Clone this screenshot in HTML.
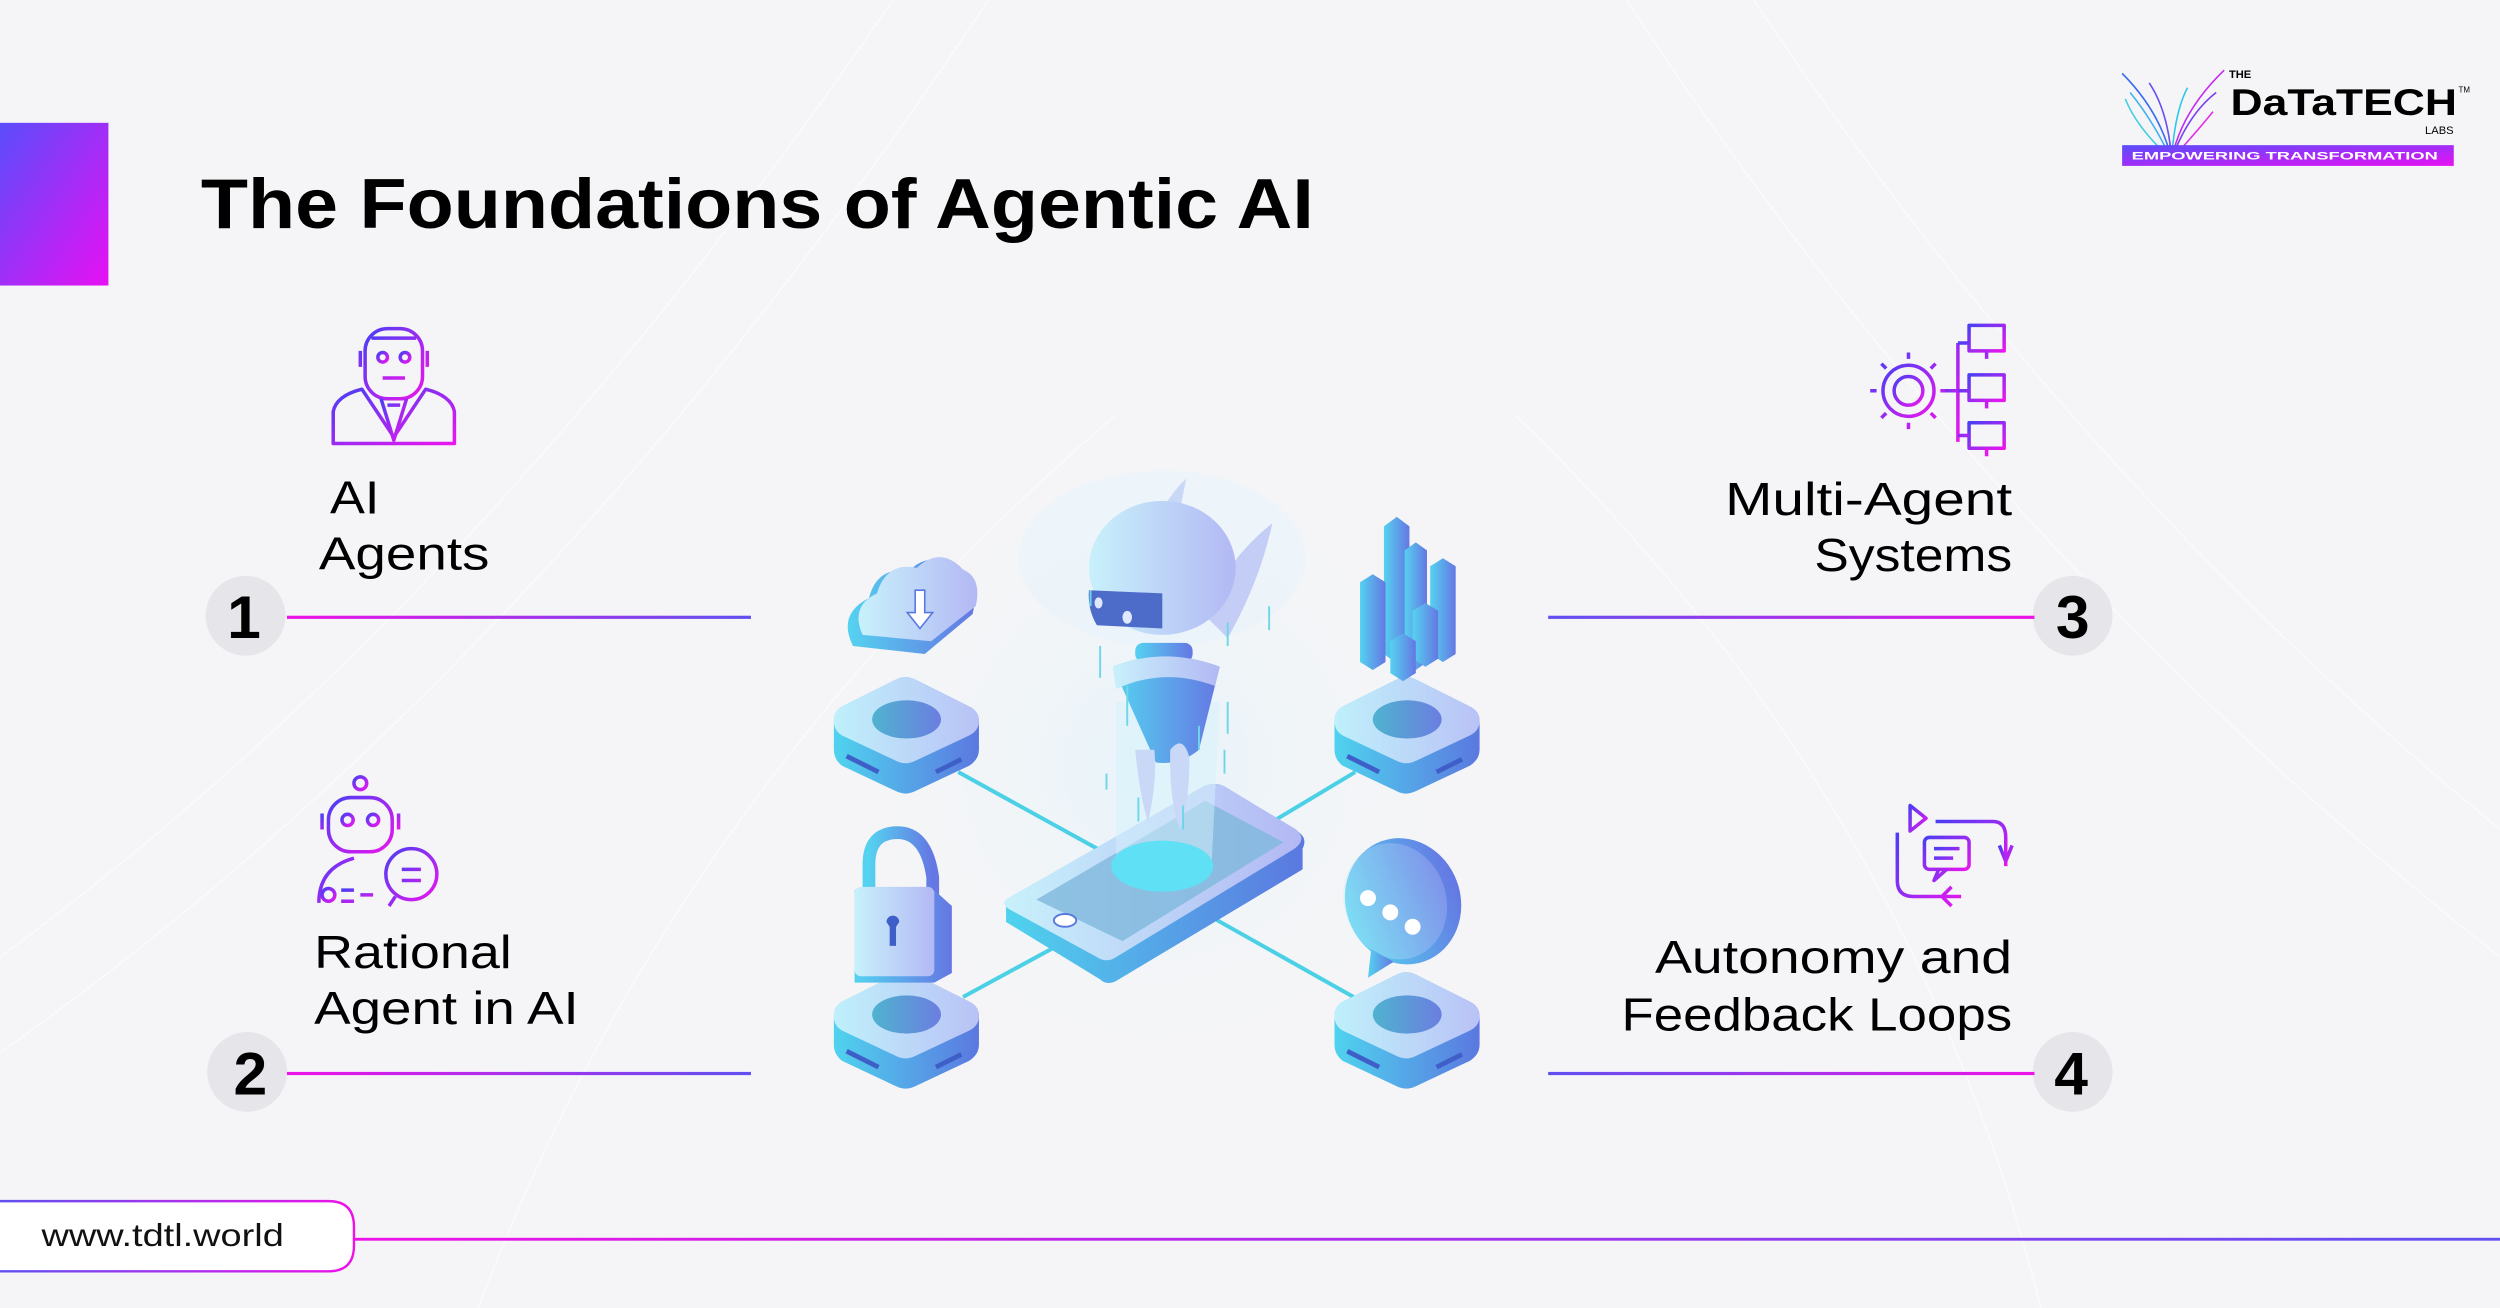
<!DOCTYPE html>
<html><head><meta charset="utf-8">
<style>
html,body{margin:0;padding:0;background:#f5f5f7;}
svg{display:block;}
text{font-family:"Liberation Sans",Arial,sans-serif;}
</style></head>
<body>
<svg width="2500" height="1308" viewBox="0 0 1568 820" preserveAspectRatio="none" xmlns="http://www.w3.org/2000/svg">
<defs>
<linearGradient id="bar" x1="0" y1="0" x2="1" y2="1"><stop offset="0" stop-color="#5a4dfb"/><stop offset="1" stop-color="#e710f3"/></linearGradient>
<linearGradient id="lnL" x1="0" x2="1"><stop offset="0" stop-color="#ee12e8"/><stop offset="1" stop-color="#6050f0"/></linearGradient>
<linearGradient id="lnR" x1="0" x2="1"><stop offset="0" stop-color="#6050f0"/><stop offset="1" stop-color="#ee12e8"/></linearGradient>
<linearGradient id="ic" x1="0" y1="0" x2="1" y2="1"><stop offset="0" stop-color="#4a3ef5"/><stop offset="1" stop-color="#ea16ee"/></linearGradient>
<linearGradient id="top" x1="0" y1="0" x2="1" y2="0"><stop offset="0" stop-color="#bff0fb"/><stop offset="1" stop-color="#b9c2f6"/></linearGradient>
<linearGradient id="side" x1="0" y1="0" x2="1" y2="0"><stop offset="0" stop-color="#4fd3ee"/><stop offset="1" stop-color="#5b78e0"/></linearGradient>
<linearGradient id="hole" x1="0" y1="0" x2="1" y2="0"><stop offset="0" stop-color="#4fb3cf"/><stop offset="1" stop-color="#6b7ee0"/></linearGradient>
<linearGradient id="obj" x1="0" y1="0" x2="1" y2="0"><stop offset="0" stop-color="#55d2f0"/><stop offset="1" stop-color="#6577e3"/></linearGradient>
<linearGradient id="objL" x1="0" y1="0" x2="1" y2="0"><stop offset="0" stop-color="#c8f1fb"/><stop offset="1" stop-color="#b3b8f4"/></linearGradient>
<radialGradient id="glow"><stop offset="0" stop-color="#e4f4fb" stop-opacity="0.9"/><stop offset="1" stop-color="#f5f5f7" stop-opacity="0"/></radialGradient>
</defs>
<rect width="1568" height="820" fill="#f5f5f7"/>
<g stroke="#ffffff" stroke-width="1" fill="none" opacity="0.5">
<path d="M0 600 Q300 380 560 0"/><path d="M0 660 Q340 420 620 0"/><path d="M1568 520 Q1300 300 1100 0"/><path d="M1568 600 Q1250 350 1020 0"/>
<path d="M300 820 Q420 500 700 260"/><path d="M1280 820 Q1200 500 950 260"/>
</g>

<rect x="0" y="77" width="68" height="102" fill="url(#bar)"/>
<text x="126" y="143" font-size="44" font-weight="bold" fill="#000" textLength="698" lengthAdjust="spacingAndGlyphs">The Foundations of Agentic AI</text>

<g>
<g stroke-width="1" fill="none">
<path d="M1362 100 Q1355 70 1331 46" stroke="#3a6cf0"/><path d="M1362 100 Q1350 75 1336 58" stroke="#3fb0f0"/>
<path d="M1362 100 Q1360 70 1348 52" stroke="#6a4cf0"/><path d="M1362 100 Q1368 70 1395 44" stroke="#c42af0"/>
<path d="M1362 100 Q1372 72 1390 58" stroke="#7a40f0"/><path d="M1362 100 Q1364 70 1372 55" stroke="#2fc8e8"/>
<path d="M1362 100 Q1340 80 1333 62" stroke="#40d0e0"/><path d="M1362 100 Q1380 80 1388 70" stroke="#e030e8"/>
</g>
<text x="1398" y="49" font-size="7" font-weight="bold" fill="#000">THE</text>
<text x="1399" y="72" font-size="23" font-weight="bold" fill="#000" textLength="142" lengthAdjust="spacingAndGlyphs">DaTaTECH</text>
<text x="1542" y="58" font-size="5" fill="#000">TM</text>
<text x="1521" y="84" font-size="7" fill="#000">LABS</text>
<rect x="1331" y="91" width="208" height="13" fill="url(#bar)"/>
<text x="1337" y="100" font-size="7" font-weight="bold" fill="#fff" textLength="192" lengthAdjust="spacingAndGlyphs">EMPOWERING TRANSFORMATION</text>
</g>

<circle cx="154" cy="386" r="25" fill="#e6e6ea"/>
<text x="153" y="400" font-size="38" font-weight="bold" text-anchor="middle" fill="#000">1</text>
<rect x="180" y="386" width="291" height="2" fill="url(#lnL)"/>
<circle cx="155" cy="672" r="25" fill="#e6e6ea"/>
<text x="157" y="686" font-size="38" font-weight="bold" text-anchor="middle" fill="#000">2</text>
<rect x="180" y="672" width="291" height="2" fill="url(#lnL)"/>
<circle cx="1300" cy="386" r="25" fill="#e6e6ea"/>
<text x="1300" y="400" font-size="38" font-weight="bold" text-anchor="middle" fill="#000">3</text>
<rect x="971" y="386" width="305" height="2" fill="url(#lnR)"/>
<circle cx="1300" cy="672" r="25" fill="#e6e6ea"/>
<text x="1299" y="686" font-size="38" font-weight="bold" text-anchor="middle" fill="#000">4</text>
<rect x="971" y="672" width="305" height="2" fill="url(#lnR)"/>

<g font-size="29" fill="#000">
<text x="207" y="322" textLength="31" lengthAdjust="spacingAndGlyphs">AI</text>
<text x="200" y="357" textLength="107" lengthAdjust="spacingAndGlyphs">Agents</text>
<text x="1082" y="323" textLength="180" lengthAdjust="spacingAndGlyphs">Multi-Agent</text>
<text x="1138" y="358" textLength="124" lengthAdjust="spacingAndGlyphs">Systems</text>
<text x="197" y="607" textLength="124" lengthAdjust="spacingAndGlyphs">Rational</text>
<text x="197" y="642" textLength="166" lengthAdjust="spacingAndGlyphs">Agent in AI</text>
<text x="1038" y="610" textLength="224" lengthAdjust="spacingAndGlyphs">Autonomy and</text>
<text x="1017" y="646" textLength="245" lengthAdjust="spacingAndGlyphs">Feedback Loops</text>
</g>

<g fill="none" stroke="url(#ic)" stroke-width="2.2" stroke-linejoin="round">
<rect x="229" y="206" width="36" height="44" rx="14"/>
<circle cx="240" cy="224" r="3"/><circle cx="254" cy="224" r="3"/>
<path d="M240 237h14M226 220v10M268 220v10M233 212h28"/>
<path d="M209 278v-20q2-10 18-14l20 30 20-30q16 4 18 14v20z"/>
<path d="M239 250l8 26 8-26M243 254h8"/>
<circle cx="1197" cy="245" r="16"/><circle cx="1197" cy="245" r="9"/>
<path d="M1197 225v-4M1197 265v4M1177 245h-4M1217 245h4M1183 231l-3-3M1211 259l3 3M1211 231l3-3M1183 259l-3 3"/>
<path d="M1220 245h8M1228 215v62"/>
<rect x="1235" y="204" width="22" height="16"/><rect x="1235" y="235" width="22" height="16"/><rect x="1235" y="265" width="22" height="16"/>
<path d="M1228 215h7M1228 245h7M1228 273h7M1246 220v5M1246 251v5M1246 281v5"/>
<circle cx="226" cy="491" r="4"/><path d="M226 495v5"/>
<rect x="206" y="500" width="40" height="34" rx="14"/>
<circle cx="218" cy="514" r="3.5"/><circle cx="234" cy="514" r="3.5"/><path d="M220 525h12"/>
<path d="M202 510v10M250 510v10"/>
<path d="M200 566q0-22 22-28"/>
<circle cx="258" cy="548" r="16"/><path d="M252 545h12M252 552h12M248 562l-4 6"/>
<circle cx="206" cy="561" r="4"/><path d="M214 558h8M214 565h8M226 561h8"/>
<path d="M1198 505v16l10-8z"/>
<path d="M1214 515h36q8 0 8 10v18"/>
<path d="M1254 530l4 10 4-10"/>
<path d="M1190 522v30q0 10 10 10h30M1224 556l-6 6 6 6"/>
<rect x="1207" y="525" width="28" height="20" rx="3"/>
<path d="M1213 532h16M1213 538h12M1216 545l-3 7 8-7"/>
</g>

<ellipse cx="725" cy="480" rx="200" ry="200" fill="url(#glow)"/>
<ellipse cx="729" cy="350" rx="90" ry="55" fill="#e8f3fb" opacity="0.6"/>
<g stroke="#4cd0e6" stroke-width="2.5">
<line x1="601" y1="484" x2="690" y2="533"/><line x1="850" y1="484" x2="795" y2="517"/>
<line x1="604" y1="625" x2="663" y2="593"/><line x1="849" y1="625" x2="760" y2="575"/>
</g>
<g id="blk">
<path d="M523 452 Q523 446 528 443 L562 426 Q568 423 574 426 L608 443 Q614 446 614 452 L614 470 Q614 476 608 480 L574 496 Q568 499 562 496 L528 480 Q523 476 523 470Z" fill="url(#side)"/>
<path d="M523 452 Q523 446 528 443 L562 426 Q568 423 574 426 L608 443 Q614 446 614 452 Q614 458 608 461 L574 477 Q568 480 562 477 L528 461 Q523 458 523 452Z" fill="url(#top)"/>
<ellipse cx="568.6" cy="451" rx="21.6" ry="12" fill="url(#hole)"/>
<path d="M531 474l20 10M587 484l16-8" stroke="#3f5fc8" stroke-width="3"/>
</g>
<use href="#blk" transform="translate(314,0)"/>
<use href="#blk" transform="translate(0,185)"/>
<use href="#blk" transform="translate(314,185)"/>
<path d="M535 405 Q525 385 545 375 Q550 355 570 358 Q585 343 600 360 Q615 365 610 385 L580 410 Z" fill="url(#obj)"/>
<path d="M541 398 Q533 380 550 372 Q556 352 575 356 Q590 342 604 357 Q616 362 612 380 L584 402 Z" fill="url(#objL)"/>
<path d="M574 370v14h-5l8 10 8-10h-5v-14z" fill="#fff" stroke="#5b78e0" stroke-width="1"/>
<g>
<path d="M868 330l8-6 8 6v80l-8 6-8-6z" fill="url(#obj)"/>
<path d="M881 345l7-5 7 5v70l-7 5-7-5z" fill="url(#obj)"/>
<path d="M897 355l8-5 8 5v55l-8 5-8-5z" fill="url(#obj)"/>
<path d="M853 365l8-5 8 5v50l-8 5-8-5z" fill="url(#obj)"/>
<path d="M886 383l8-5 8 5v30l-8 5-8-5z" fill="url(#obj)"/>
<path d="M872 402l8-5 8 5v20l-8 5-8-5z" fill="url(#obj)"/>
</g>
<path d="M545 570v-28q0-20 18-20q18 0 22 28v22" fill="none" stroke="url(#obj)" stroke-width="8"/>
<path d="M536 558l50 0 11 10v42l-11 6-50 0z" fill="url(#obj)"/>
<rect x="536" y="556" width="50" height="56" rx="4" fill="url(#objL)"/>
<path d="M556 578a4 4 0 1 1 8 0l-2 3v12h-4v-12z" fill="#3f5fc8"/>
<ellipse cx="880" cy="565" rx="36" ry="40" fill="url(#obj)" transform="rotate(-20 880 565)"/>
<ellipse cx="875" cy="565" rx="32" ry="37" fill="url(#objL)" transform="rotate(-20 875 565)" opacity="0.35"/>
<path d="M860 595l-2 18 16-10z" fill="url(#obj)"/>
<circle cx="858" cy="563" r="5" fill="#fff"/><circle cx="872" cy="572" r="5" fill="#fff"/><circle cx="886" cy="581" r="5" fill="#fff"/>
<path d="M631 564 L755 493 Q762 490 768 493 L815 522 Q820 526 817 532 L817 545 L700 615 Q694 618 690 614 L631 578 Z" fill="url(#side)"/>
<path d="M631 564 L755 493 Q762 490 768 493 L813 520 Q820 526 812 532 L700 600 Q694 604 688 600 L633 570 Q628 567 631 564Z" fill="url(#objL)"/>
<path d="M650 564 L756 502 L805 528 L704 590 Z" fill="#7fb8dc" opacity="0.8"/>
<ellipse cx="668" cy="577" rx="7" ry="4" fill="#fff" stroke="#5b78e0" stroke-width="1.2"/>
<path d="M700 440 L700 540 L760 540 L765 440Z" fill="#d6f2fb" opacity="0.5"/>
<ellipse cx="729" cy="543" rx="32" ry="16" fill="#5fe0f4"/>
<path d="M744 300 Q725 318 718 350 L735 345 Q740 320 744 300Z" fill="#c9d8f6"/>
<path d="M798 328 Q790 365 770 400 L755 385 Q770 350 798 328Z" fill="#c3cdf5"/>
<ellipse cx="729" cy="356" rx="46" ry="42" fill="url(#objL)"/>
<path d="M683 370 L729 372 L729 394 L688 392 Q682 382 683 370Z" fill="#4d6bc8"/>
<ellipse cx="689" cy="378" rx="2.5" ry="3.5" fill="#dfe8ff"/><ellipse cx="707" cy="387" rx="3" ry="4" fill="#dfe8ff"/>
<rect x="712" y="403" width="36" height="12" rx="5" fill="url(#obj)"/>
<path d="M698 418 Q730 405 765 418 L752 470 Q740 480 725 478 Z" fill="url(#obj)"/>
<path d="M698 418 Q730 405 765 418 L762 430 Q730 418 700 432 Z" fill="url(#objL)"/>
<path d="M712 470 Q715 500 720 515 Q726 490 724 470Z" fill="#c9d8f6"/>
<path d="M734 470 Q742 460 746 475 Q746 505 740 520 Q733 500 734 470Z" fill="#c9d8f6"/>
<g stroke="#6fd6ea" stroke-width="1.2"><path d="M684 370v10M690 405v20M770 390v15M796 380v15M707 430v25M770 440v20M752 455v15M694 485v10M714 500v15M742 505v15M768 470v15"/></g>

<path d="M0 753 H206 Q222 753 222 769 V781 Q222 797 206 797 H0" fill="#fff" stroke="url(#lnR)" stroke-width="1.5"/>
<text x="26" y="781" font-size="20" fill="#111" textLength="152" lengthAdjust="spacingAndGlyphs">www.tdtl.world</text>
<rect x="222" y="776" width="1346" height="1.8" fill="url(#lnL)"/>
</svg>
</body></html>
